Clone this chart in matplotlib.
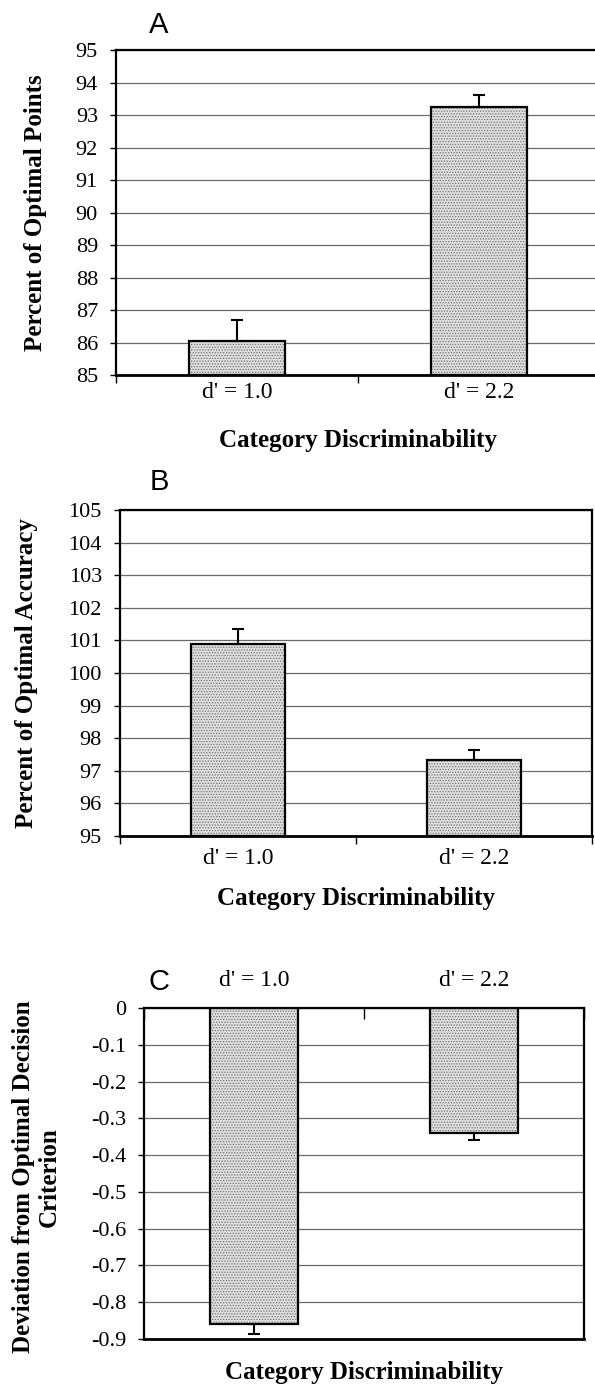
import matplotlib
matplotlib.use("Agg")
import matplotlib.pyplot as plt
import numpy as np

plt.rcParams['font.family'] = ['Liberation Serif', 'DejaVu Serif']
plt.rcParams['hatch.linewidth'] = 0.6

# data
categories = ["d' = 1.0", "d' = 2.2"]

points_means = [86.06, 93.25]
points_err = [0.63, 0.37]

accuracy_means = [100.88, 97.32]
accuracy_err = [0.46, 0.33]

criterion_means = [-0.86, -0.34]
criterion_err = [0.026, 0.02]

fig = plt.figure(figsize=(5.95, 13.85), dpi=100)

ax_a = fig.add_axes([0.195, 0.7292, 0.8134, 0.2347])
ax_b = fig.add_axes([0.2017, 0.3964, 0.7933, 0.2354])
ax_c = fig.add_axes([0.2420, 0.0332, 0.7395, 0.2390])

x = np.arange(len(categories))
width = 0.40
label_size = 18


def draw_bars(ax, means, errs, base, down=False):
    heights = [m - base for m in means]
    ax.bar(x, heights, width, bottom=base, color='#dedede', edgecolor='#737373',
           hatch='......', linewidth=0, zorder=2)
    ax.bar(x, heights, width, bottom=base, fill=False, edgecolor='black',
           linewidth=1.6, zorder=3)
    if down:
        yerr = [errs, [0] * len(errs)]
    else:
        yerr = [[0] * len(errs), errs]
    ax.errorbar(x, means, yerr=yerr, fmt='none', ecolor='black', elinewidth=1.5,
                capsize=4.5, capthick=1.5, zorder=4)


def style(ax, lo, hi, step, fmt):
    ax.set_xlim(-0.5, 1.5)
    ax.set_ylim(lo, hi)
    ticks = np.round(np.arange(lo, hi + step / 2, step), 2)
    ax.set_yticks(ticks)
    ax.set_yticklabels([fmt(t) for t in ticks])
    ax.grid(axis='y', color='#6a6a6a', linewidth=0.9, zorder=1)
    ax.set_axisbelow(True)
    ax.tick_params(axis='y', length=4, width=1, pad=9, labelsize=16)
    ax.set_xticks(x)
    ax.set_xticklabels(categories)
    ax.set_xticks([-0.5, 0.5, 1.5], minor=True)
    for s in ax.spines.values():
        s.set_linewidth(1.6)


# panel A
draw_bars(ax_a, points_means, points_err, 85)
style(ax_a, 85, 95, 1, lambda t: '%d' % t)
ax_a.tick_params(axis='x', which='major', length=0, pad=5, labelsize=17)
ax_a.tick_params(axis='x', which='minor', length=6, width=1)
ax_a.spines['bottom'].set_linewidth(2)
ax_a.set_ylabel('Percent of Optimal Points', fontsize=label_size, fontweight='bold')
ax_a.yaxis.set_label_coords(-0.143, 0.5)
ax_a.set_xlabel('Category Discriminability', fontsize=label_size, fontweight='bold')
ax_a.xaxis.set_label_coords(0.5, -0.165)

# panel B
draw_bars(ax_b, accuracy_means, accuracy_err, 95)
style(ax_b, 95, 105, 1, lambda t: '%d' % t)
ax_b.tick_params(axis='x', which='major', length=0, pad=9, labelsize=17)
ax_b.tick_params(axis='x', which='minor', length=6, width=1)
ax_b.spines['bottom'].set_linewidth(2)
ax_b.set_ylabel('Percent of Optimal Accuracy', fontsize=label_size, fontweight='bold')
ax_b.yaxis.set_label_coords(-0.174, 0.5)
ax_b.set_xlabel('Category Discriminability', fontsize=label_size, fontweight='bold')
ax_b.xaxis.set_label_coords(0.5, -0.155)

# panel C
draw_bars(ax_c, criterion_means, criterion_err, 0, down=True)
style(ax_c, -0.9, 0, 0.1, lambda t: '0' if t == 0 else '%.1f' % t)
ax_c.xaxis.tick_top()
ax_c.tick_params(axis='x', which='major', top=True, bottom=False, length=0, pad=12, labelsize=17)
ax_c.tick_params(axis='x', which='minor', top=True, bottom=False, direction='in', length=8, width=1)
ax_c.spines['bottom'].set_linewidth(2)
ax_c.set_ylabel('Deviation from Optimal Decision\nCriterion', fontsize=label_size,
                fontweight='bold', linespacing=1.12)
ax_c.yaxis.set_label_coords(-0.19, 0.49)
ax_c.set_xlabel('Category Discriminability', fontsize=label_size, fontweight='bold')
ax_c.xaxis.set_label_position('bottom')
ax_c.xaxis.set_label_coords(0.5, -0.065)

# panel letters
for letter, yy in [('A', 0.982), ('B', 0.652), ('C', 0.291)]:
    fig.text(0.267, yy, letter, fontsize=21, family='Liberation Sans',
             ha='center', va='center')

fig.savefig('out.png', dpi=100)
